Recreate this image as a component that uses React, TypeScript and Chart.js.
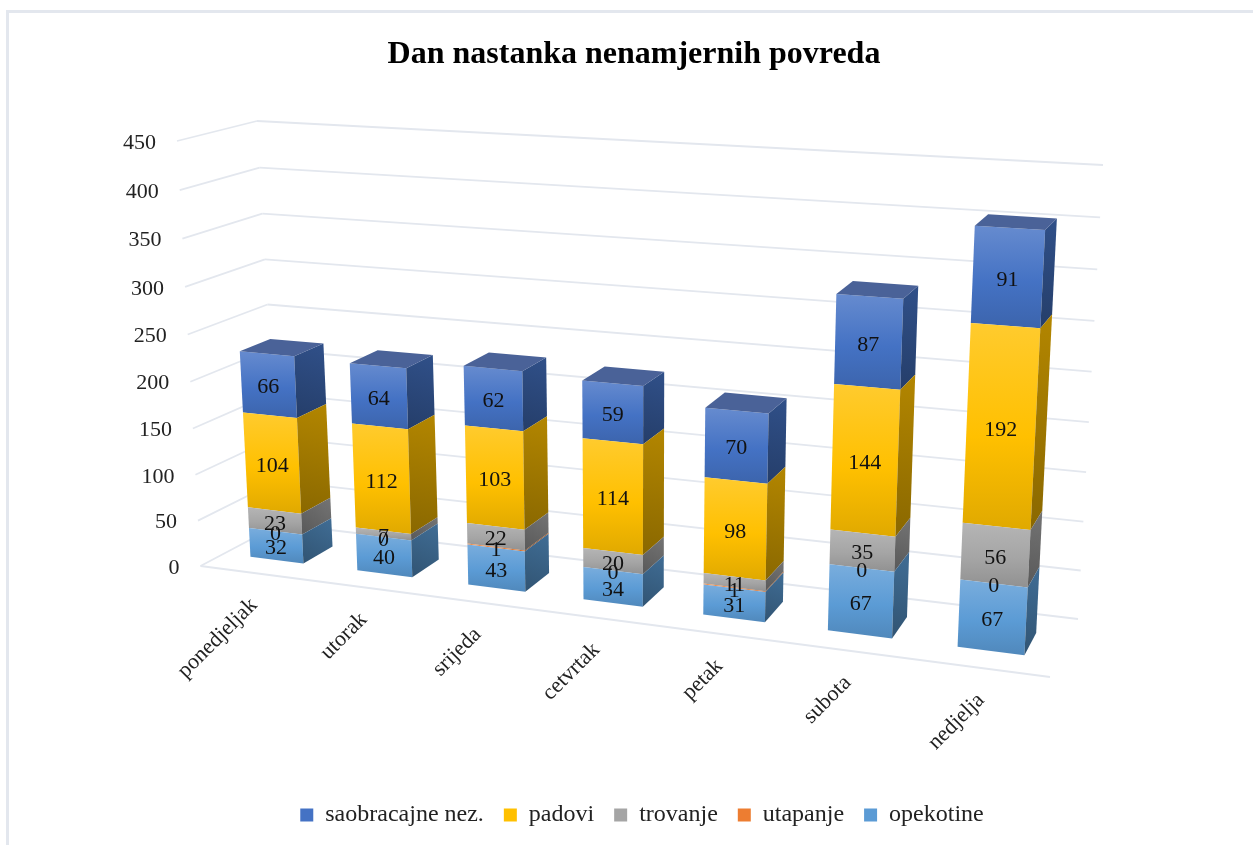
import React, { useEffect, useRef } from "react";
import { Chart, registerables, BarElement } from "chart.js";

Chart.register(...registerables);

const days = ["ponedjeljak", "utorak", "srijeda", "cetvrtak", "petak", "subota", "nedjelja"];
const opekotine = [32, 40, 43, 34, 31, 67, 67];
const utapanje = [0, 0, 1, 0, 1, 0, 0];
const trovanje = [23, 7, 22, 20, 11, 35, 56];
const padovi = [104, 112, 103, 114, 98, 144, 192];
const saobracajne = [66, 64, 62, 59, 70, 87, 91];

const SERIF = '"Liberation Serif", "Times New Roman", serif';
const GRID = "#E3E7EE";

// 3D box of the plot in screen space: [u][v][w] = [left/right][floor/top][front/back]
const C: number[][][][] = [
  [
    [[200.5, 566], [280, 524]],
    [[177, 141], [257, 121]],
  ],
  [
    [[1050, 677], [1078, 619]],
    [[1075, 192], [1103, 165]],
  ],
];
const K_U = 1.146;
const M_V = 1.045;
const W_FRONT = 0.3;
const W_BACK = 0.69;

let area = { left: 0, right: 1, top: 0, bottom: 1 };

const lerp = (a: number, b: number, t: number) => a + (b - a) * t;
function corner(u: number, v: number, w: number) {
  const fu = u / (u + K_U * (1 - u));
  const gv = v / (v + M_V * (1 - v));
  const out = [0, 0];
  for (let k = 0; k < 2; k++) {
    const a = lerp(lerp(C[0][0][0][k], C[1][0][0][k], fu), lerp(C[0][1][0][k], C[1][1][0][k], fu), gv);
    const b = lerp(lerp(C[0][0][1][k], C[1][0][1][k], fu), lerp(C[0][1][1][k], C[1][1][1][k], fu), gv);
    out[k] = lerp(a, b, w);
  }
  return out;
}
function project(px: number, py: number, w: number) {
  return corner(
    (px - area.left) / (area.right - area.left),
    (area.bottom - py) / (area.bottom - area.top),
    w
  );
}

function parse(c: string) {
  return [1, 3, 5].map((i) => parseInt(c.slice(i, i + 2), 16));
}
function mix(c: string, target: number, t: number) {
  const [r, g, b] = parse(c).map((x) => Math.round(lerp(x, target, t)));
  return `rgb(${r},${g},${b})`;
}

function poly(ctx: CanvasRenderingContext2D, pts: number[][], fill: any) {
  ctx.beginPath();
  pts.forEach((p, i) => (i ? ctx.lineTo(p[0], p[1]) : ctx.moveTo(p[0], p[1])));
  ctx.closePath();
  ctx.fillStyle = fill;
  ctx.fill();
}

(BarElement.prototype as any).draw = function (ctx: CanvasRenderingContext2D) {
  const { x, y, base, width } = this;
  if (Math.abs(base - y) < 0.01) return;
  const color: string = this.options.backgroundColor;
  const l = x - width / 2;
  const r = x + width / 2;
  const fTL = project(l, y, W_FRONT);
  const fTR = project(r, y, W_FRONT);
  const fBL = project(l, base, W_FRONT);
  const fBR = project(r, base, W_FRONT);
  const bTR = project(r, y, W_BACK);
  const bBR = project(r, base, W_BACK);
  const bTL = project(l, y, W_BACK);

  ctx.save();
  const fg = ctx.createLinearGradient(0, fTL[1], 0, fBR[1]);
  fg.addColorStop(0, mix(color, 255, 0.18));
  fg.addColorStop(0.55, color);
  fg.addColorStop(1, mix(color, 0, 0.12));
  poly(ctx, [fTL, fTR, fBR, fBL], fg);

  const sg = ctx.createLinearGradient(bTR[0], bTR[1], fBR[0], fBR[1]);
  sg.addColorStop(0, mix(color, 0, 0.3));
  sg.addColorStop(1, mix(color, 0, 0.46));
  poly(ctx, [fTR, bTR, bBR, fBR], sg);

  if (this.$isTop) {
    poly(ctx, [fTL, bTL, bTR, fTR], "rgb(74,98,152)");
  }
  ctx.restore();
};

const scene3d = {
  id: "scene3d",
  afterLayout(chart: any) {
    chart.legend.left += 16;
    chart.legend.top += 8;
  },
  beforeDatasetsDraw(chart: any) {
    const { ctx, chartArea, scales } = chart;
    area = chartArea;
    const n = chart.data.datasets.length;
    chart.data.datasets.forEach((_: any, d: number) => {
      chart.getDatasetMeta(d).data.forEach((el: any) => {
        el.$isTop = d === n - 1;
      });
    });

    ctx.save();
    ctx.strokeStyle = GRID;
    ctx.lineWidth = 1.8;
    const line = (a: number[], b: number[]) => {
      ctx.beginPath();
      ctx.moveTo(a[0], a[1]);
      ctx.lineTo(b[0], b[1]);
      ctx.stroke();
    };
    scales.y.ticks.forEach((t: any) => {
      const py = scales.y.getPixelForValue(t.value);
      const a = project(area.left, py, 0);
      const b = project(area.left, py, 1);
      const c = project(area.right, py, 1);
      line(a, b);
      line(b, c);
    });
    line(project(area.left, area.bottom, 0), project(area.right, area.bottom, 0));

    ctx.fillStyle = "#222";
    ctx.font = `22px ${SERIF}`;
    ctx.textAlign = "right";
    ctx.textBaseline = "middle";
    scales.y.ticks.forEach((t: any) => {
      const p = project(area.left, scales.y.getPixelForValue(t.value), 0);
      ctx.fillText(String(t.value), p[0] - 21, p[1] + 2);
    });
    days.forEach((_, i) => {
      const p = project(scales.x.getPixelForValue(i), area.bottom, 0);
      ctx.save();
      ctx.translate(p[0], p[1] + 29);
      ctx.rotate(-Math.PI / 4);
      ctx.fillText(scales.x.getLabelForValue(i), 0, 0);
      ctx.restore();
    });
    ctx.restore();
  },
  afterDatasetsDraw(chart: any) {
    const { ctx } = chart;
    ctx.save();
    ctx.fillStyle = "#111";
    ctx.font = `22px ${SERIF}`;
    ctx.textAlign = "center";
    ctx.textBaseline = "middle";
    chart.data.datasets.forEach((ds: any, d: number) => {
      chart.getDatasetMeta(d).data.forEach((el: any, i: number) => {
        const p = project(el.x, (el.y + el.base) / 2, W_FRONT);
        ctx.fillText(String(ds.data[i]), p[0], p[1] + 3);
      });
    });
    ctx.restore();
  },
};

export default function App() {
  const ref = useRef<HTMLCanvasElement>(null);
  useEffect(() => {
    const chart = new Chart(ref.current as HTMLCanvasElement, {
      type: "bar",
      data: {
        labels: days,
        datasets: [
          { label: "opekotine", data: opekotine, backgroundColor: "#5B9BD5" },
          { label: "utapanje", data: utapanje, backgroundColor: "#ED7D31" },
          { label: "trovanje", data: trovanje, backgroundColor: "#A5A5A5" },
          { label: "padovi", data: padovi, backgroundColor: "#FFC000" },
          { label: "saobracajne nez.", data: saobracajne, backgroundColor: "#4472C4" },
        ],
      },
      options: {
        responsive: false,
        animation: false,
        categoryPercentage: 0.5,
        barPercentage: 1,
        layout: { padding: { left: 15, right: 0, top: 36, bottom: 16 } },
        scales: {
          x: { stacked: true, grid: { display: false }, border: { display: false }, ticks: { display: false } },
          y: {
            stacked: true,
            min: 0,
            max: 450,
            grid: { display: false },
            border: { display: false },
            ticks: { display: false, stepSize: 50 },
          },
        },
        plugins: {
          tooltip: { enabled: false },
          title: {
            display: true,
            text: "Dan nastanka nenamjernih povreda",
            color: "#000",
            font: { family: SERIF, size: 32, weight: "bold" },
            padding: { top: 0, bottom: 10 },
          },
          legend: {
            display: true,
            position: "bottom",
            reverse: true,
            labels: {
              color: "#222",
              boxWidth: 13,
              boxHeight: 13,
              padding: 20,
              font: { family: SERIF, size: 24 },
            },
          },
        },
      } as any,
      plugins: [scene3d],
    });
    return () => chart.destroy();
  }, []);
  return (
    <div style={{ position: "absolute", left: 0, top: 0, width: 1253, height: 845, background: "#fff", overflow: "hidden" }}>
      <div
        style={{
          position: "absolute",
          left: 6,
          top: 10,
          right: 0,
          bottom: 0,
          borderLeft: `3px solid ${GRID}`,
          borderTop: `3px solid ${GRID}`,
        }}
      />
      <canvas ref={ref} width={1253} height={845} style={{ position: "absolute", left: 0, top: 0, display: "block" }} />
    </div>
  );
}
